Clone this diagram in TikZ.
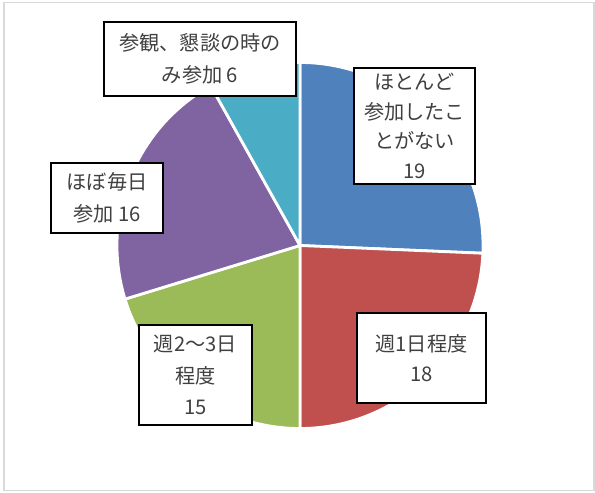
\documentclass[tikz,border=0pt]{standalone}
\usepackage{fontspec}
\setmainfont{Noto Sans CJK JP}
\definecolor{sblue}{HTML}{4F81BD}
\definecolor{sred}{HTML}{C0504D}
\definecolor{sgreen}{HTML}{9BBB59}
\definecolor{spurple}{HTML}{8064A2}
\definecolor{steal}{HTML}{4BACC6}
\definecolor{txtgray}{HTML}{404040}
\definecolor{framegray}{HTML}{D9D9D9}
\begin{document}
\begin{tikzpicture}[x=1pt,y=1pt,
  wedge/.style={draw=white,line width=2.8pt,line join=round},
  lbl/.style={draw=black,line width=1.4pt,fill=white,inner sep=0pt,align=center,
    text=txtgray,font=\fontsize{20.2}{31.5}\selectfont}]
\useasboundingbox (0,0) rectangle (595,493);
\draw[framegray,line width=1.3pt] (4,2.5) rectangle (594,490.5);
\coordinate (c) at (300,247.5);
\path[wedge,fill=sblue] (c) -- ++(90:183) arc[start angle=90,end angle=-2.43,radius=183] -- cycle;
\path[wedge,fill=sred] (c) -- ++(-2.43:183) arc[start angle=-2.43,end angle=-90,radius=183] -- cycle;
\path[wedge,fill=sgreen] (c) -- ++(-90:183) arc[start angle=-90,end angle=-162.97,radius=183] -- cycle;
\path[wedge,fill=spurple] (c) -- ++(-162.97:183) arc[start angle=-162.97,end angle=-240.81,radius=183] -- cycle;
\path[wedge,fill=steal] (c) -- ++(-240.81:183) arc[start angle=-240.81,end angle=-270,radius=183] -- cycle;
\node[lbl,minimum width=192,minimum height=74] (l1) at (200,434) {参観、懇談の時の\\み参加 6};
\node[lbl,minimum width=121,minimum height=116,font=\fontsize{20.2}{29.5}\selectfont] (l2) at (414.5,367) {ほとんど\\参加したこ\\とがない\\19};
\node[lbl,minimum width=112,minimum height=70] (l3) at (107,295) {ほぼ毎日\\参加 16};
\node[lbl,minimum width=113,minimum height=100] (l4) at (195.5,118) {週2～3日\\程度\\15};
\node[lbl,minimum width=129,minimum height=90,font=\fontsize{20.2}{30}\selectfont] (l5) at (421.5,135) {週1日程度\\18};
\end{tikzpicture}
\end{document}
